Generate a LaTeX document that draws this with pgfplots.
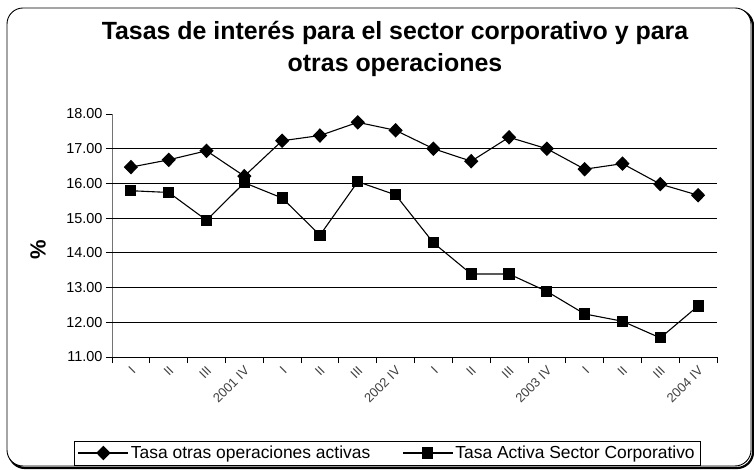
\documentclass[border=0pt]{standalone}
\usepackage{pgfplots}
\pgfplotsset{compat=1.18}
\usepackage{fontspec}
\setmainfont{Liberation Sans}

\begin{document}
\begin{tikzpicture}
\useasboundingbox (-112bp,-113bp) rectangle (642bp,357bp);
% outer frame with a slight shadow
\draw[line width=2.2bp, rounded corners=16bp] (-103bp,-111bp) rectangle (641bp,347bp);
\fill[white, rounded corners=16bp] (-105bp,-109bp) rectangle (639bp,349bp);
\draw[line width=0.9bp, rounded corners=16bp] (-105bp,-109bp) rectangle (639bp,349bp);

\node[font=\bfseries\fontsize{25}{33}\selectfont, align=center] at (283bp,308bp)
  {Tasas de interés para el sector corporativo y para\\otras operaciones};

\begin{axis}[
  at={(0,0)}, anchor=south west,
  scale only axis, width=605bp, height=243bp,
  xmin=0.5, xmax=16.5, ymin=11, ymax=18,
  axis lines=left,
  axis line style={-},
  y axis line style={draw=black!55},
  tick align=outside,
  major tick length=6bp,
  tick style={black, line width=0.8bp},
  ytick={11,12,...,18},
  yticklabel style={font=\fontsize{14.5}{16}\selectfont},
  /pgf/number format/.cd, fixed, fixed zerofill, precision=2, assume math mode=true,
  /pgfplots/.cd,
  extra y ticks={12,13,14,15,16,17},
  extra y tick labels={},
  extra y tick style={major tick length=0pt, grid=major},
  grid style={black, line width=0.8bp},
  xtick={0.5,1.5,...,16.5},
  xticklabels={,,,,,,,,,,,,,,,,,},
  extra x ticks={1,2,...,16},
  extra x tick labels={I,II,III,2001 IV,I,II,III,2002 IV,I,II,III,2003 IV,I,II,III,2004 IV},
  extra x tick style={major tick length=0pt,
    xticklabel style={rotate=45, anchor=east, xshift=-3bp, yshift=-10bp,
      font=\fontsize{13}{14}\selectfont, text=black!75}},
  ylabel={\%},
  ylabel style={at={(axis description cs:-0.122,0.44)}, anchor=center, rotate=0,
    font=\bfseries\fontsize{22}{24}\selectfont},
  legend columns=2,
  legend style={at={(axis description cs:0.455,-0.395)}, anchor=center,
    draw=black, line width=0.6bp, font=\fontsize{17.5}{19}\selectfont,
    inner xsep=4bp, inner ysep=3bp,
    /tikz/every even column/.append style={column sep=30bp}},
  legend image code/.code={\draw[mark repeat=2, mark phase=2, #1]
    plot coordinates {(0bp,0bp) (25bp,0bp) (50bp,0bp)};},
]
\addplot[black, line width=1.1bp, mark=diamond*, mark size=6.5bp,
  mark options={xscale=1.3, solid}] coordinates {
 (1,16.47) (2,16.68) (3,16.94) (4,16.21) (5,17.23) (6,17.38) (7,17.76) (8,17.53)
 (9,17.00) (10,16.64) (11,17.33) (12,17.00) (13,16.41) (14,16.57) (15,15.98) (16,15.66)
};
\addplot[black, line width=1.1bp, mark=square*, mark size=5bp,
  mark options={solid}] coordinates {
 (1,15.79) (2,15.74) (3,14.94) (4,16.02) (5,15.58) (6,14.51) (7,16.05) (8,15.67)
 (9,14.29) (10,13.39) (11,13.39) (12,12.89) (13,12.24) (14,12.03) (15,11.55) (16,12.47)
};
\legend{Tasa otras operaciones activas, Tasa Activa Sector Corporativo}
\end{axis}
\end{tikzpicture}
\end{document}
